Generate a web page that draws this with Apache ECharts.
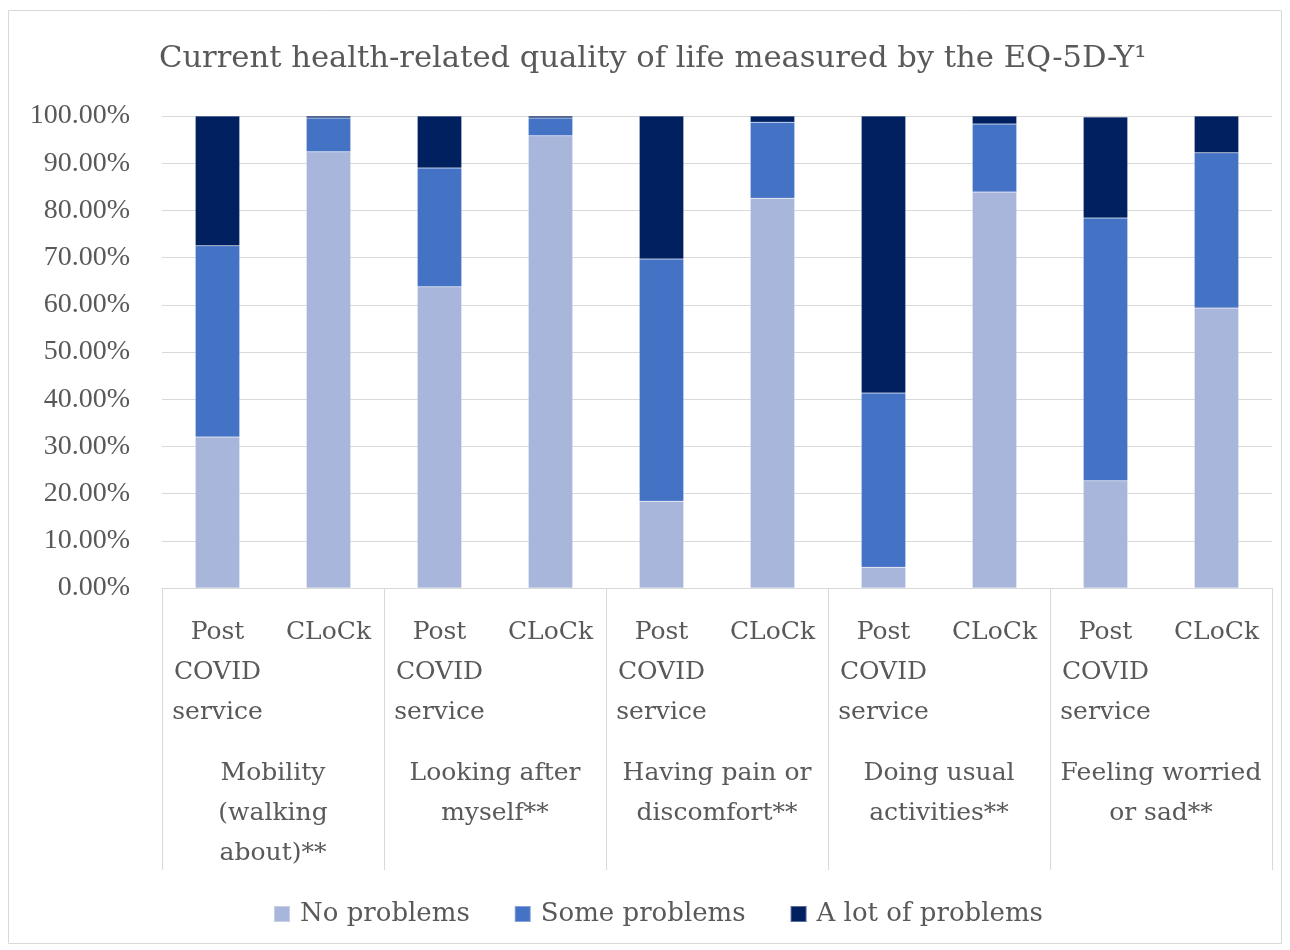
<!DOCTYPE html>
<html>
<head>
<meta charset="utf-8">
<script src="https://cdn.jsdelivr.net/npm/echarts@6/dist/echarts.min.js"></script>
<style>html,body{margin:0;padding:0;background:#fff}#c{width:1290px;height:950px}</style>
</head>
<body>
<div id="c"></div>
<script>
const subCategories = ['Post\nCOVID\nservice','CLoCk','Post\nCOVID\nservice','CLoCk','Post\nCOVID\nservice','CLoCk','Post\nCOVID\nservice','CLoCk','Post\nCOVID\nservice','CLoCk'];
const groupCategories = ['Mobility\n(walking\nabout)**','Looking after\nmyself**','Having pain or\ndiscomfort**','Doing usual\nactivities**','Feeling worried\nor sad**'];
const noProblems   = [32.0, 92.4, 63.8, 95.8, 18.4, 82.6, 4.4, 83.9, 22.7, 59.3];
const someProblems = [40.5, 7.2, 25.2, 3.8, 51.3, 16.1, 36.9, 14.4, 55.7, 32.9];
const lotProblems  = [27.5, 0.4, 11.0, 0.4, 30.3, 1.3, 58.7, 1.7, 21.4, 7.8];
const seriesNames = ['No problems','Some problems','A lot of problems'];
const colors = ['#a9b6db','#4472c4','#002060'];

const chart = echarts.init(document.getElementById('c'));
const txt = '#595959';
const serif = 'DejaVu Serif';
const mk = (name, data, color) => ({
  name, type:'bar', stack:'s', data, barCategoryGap:'60%',
  itemStyle:{color, borderColor:'rgba(255,255,255,0.35)', borderWidth:0.5}
});
chart.setOption({
  animation:false,
  title:{text:'Current health-related quality of life measured by the EQ-5D-Y\u00b9', left:154, top:39,
    textStyle:{fontFamily:serif, fontSize:30.6, fontWeight:'normal', color:txt}},
  graphic:[{type:'rect', shape:{x:8.5,y:10.5,width:1273,height:933}, style:{fill:'none', stroke:'#d9d9d9', lineWidth:1}, silent:true}],
  legend:{left:268, top:896, itemWidth:16, itemHeight:16, itemGap:44, icon:'rect',
    textStyle:{fontFamily:serif, fontSize:26, color:txt, padding:[0,0,0,5]}, data:seriesNames},
  grid:{left:162, right:18, top:116, bottom:362},
  xAxis:[
    {type:'category', data:subCategories, position:'bottom',
      axisLine:{lineStyle:{color:'#d9d9d9', width:1}}, axisTick:{show:false},
      axisLabel:{interval:0, margin:24, lineHeight:40, fontFamily:serif, fontSize:25, color:txt, verticalAlign:'top'}},
    {type:'category', data:groupCategories, position:'bottom', offset:0,
      axisLine:{show:false}, axisTick:{show:true, length:282, lineStyle:{color:'#d9d9d9'}},
      axisLabel:{interval:0, margin:165, lineHeight:40, fontFamily:serif, fontSize:25, color:txt, verticalAlign:'top'}}
  ],
  yAxis:{type:'value', min:0, max:100, interval:10,
    axisLine:{show:false}, axisTick:{show:false},
    splitLine:{lineStyle:{color:'#d9d9d9', width:1}},
    axisLabel:{margin:32, fontFamily:'Liberation Serif', fontSize:28, color:txt, formatter:v=>v.toFixed(2)+'%'}},
  series:[mk(seriesNames[0], noProblems, colors[0]), mk(seriesNames[1], someProblems, colors[1]), mk(seriesNames[2], lotProblems, colors[2])]
});
</script>
</body>
</html>
